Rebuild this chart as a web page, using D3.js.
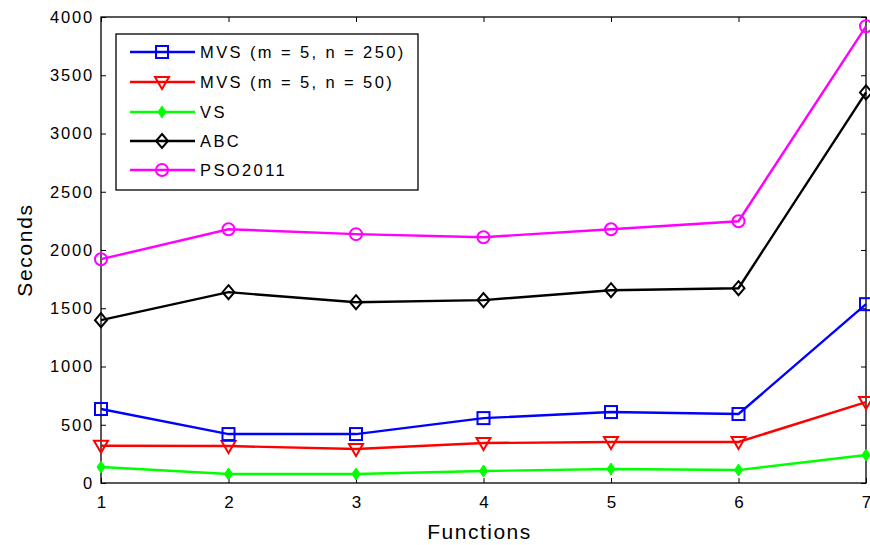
<!DOCTYPE html>
<html><head><meta charset="utf-8">
<script src="https://cdn.jsdelivr.net/npm/d3@7"></script>
<style>body{margin:0;background:#fff}svg{display:block}text{font-family:"Liberation Sans",Arial,sans-serif}</style>
</head><body><svg id="c" width="870" height="545"></svg>
<script>
const functions = [1,2,3,4,5,6,7];
const mvs250 = [635,420,420,557,609,592,1535];
const mvs50 = [320,317,292,343,352,352,695];
const vs = [137,77,77,103,120,111,240];
const abc = [1398,1638,1552,1570,1655,1672,3353];
const pso = [1921,2178,2136,2110,2178,2247,3920];
const yTicks = [0,500,1000,1500,2000,2500,3000,3500,4000];
const seriesNames = ["MVS (m = 5, n = 250)","MVS (m = 5, n = 50)","VS","ABC","PSO2011"];
const seriesColors = ["#0000ff","#ff0000","#00ff00","#000000","#ff00ff"];
const seriesMarkers = ["square","triangle","dot","diamond","circle"];
const seriesData = [mvs250,mvs50,vs,abc,pso];

const svg = d3.select("#c");
const L=101,R=866,T=17,B=483;
const x = d3.scaleLinear().domain([1,7]).range([L,R]);
const y = d3.scaleLinear().domain([0,4000]).range([B,T]);

const fs = "16.5px", ls="1.8px";
svg.append("g").attr("transform",`translate(${L},0)`).call(d3.axisLeft(y).tickValues(yTicks).tickFormat(d3.format("d")).tickSizeInner(-5).tickSizeOuter(0).tickPadding(7))
 .call(g=>{g.select(".domain").remove();g.selectAll("text").attr("font-size",fs).attr("letter-spacing",ls).attr("fill","#000").attr("font-family","Liberation Sans, Arial");});
svg.append("g").attr("transform",`translate(${R},0)`).call(d3.axisRight(y).tickValues(yTicks).tickSizeInner(-5).tickSizeOuter(0).tickFormat(""))
 .call(g=>g.select(".domain").remove());
svg.append("g").attr("transform",`translate(0,${B})`).call(d3.axisBottom(x).tickValues(functions).tickSizeInner(-5).tickSizeOuter(0).tickPadding(13).tickFormat(d3.format("d")))
 .call(g=>{g.select(".domain").remove();g.selectAll("text").attr("font-size","17px").attr("fill","#000").attr("font-family","Liberation Sans, Arial");});
svg.append("g").attr("transform",`translate(0,${T})`).call(d3.axisTop(x).tickValues(functions).tickSizeInner(-5).tickSizeOuter(0).tickFormat(""))
 .call(g=>g.select(".domain").remove());
svg.selectAll(".tick line").attr("stroke","#000");
svg.append("rect").attr("x",L).attr("y",T).attr("width",R-L).attr("height",B-T).attr("fill","none").attr("stroke","#000").attr("stroke-width",1.3);

svg.append("text").attr("x",(L+R)/2-4).attr("y",539).attr("text-anchor","middle").attr("font-size","21px").attr("letter-spacing","1.5px").text("Functions");
svg.append("text").attr("transform",`translate(32,${(T+B)/2}) rotate(-90)`).attr("text-anchor","middle").attr("font-size","21px").attr("letter-spacing","1.7px").text("Seconds");

function marker(g,type,color,cx,cy){
  if(type==="square") g.append("rect").attr("x",cx-6).attr("y",cy-6).attr("width",12).attr("height",12).attr("fill","none").attr("stroke",color).attr("stroke-width",2);
  else if(type==="triangle") g.append("path").attr("d",`M${cx-7},${cy-5}L${cx+7},${cy-5}L${cx},${cy+7}Z`).attr("fill","none").attr("stroke",color).attr("stroke-width",2);
  else if(type==="dot") g.append("path").attr("d",`M${cx},${cy-6}L${cx+4},${cy}L${cx},${cy+6}L${cx-4},${cy}Z`).attr("fill",color).attr("stroke",color).attr("stroke-width",1);
  else if(type==="diamond") g.append("path").attr("d",`M${cx},${cy-7}L${cx+6},${cy}L${cx},${cy+7}L${cx-6},${cy}Z`).attr("fill","none").attr("stroke",color).attr("stroke-width",2);
  else if(type==="circle") g.append("circle").attr("cx",cx).attr("cy",cy).attr("r",6).attr("fill","none").attr("stroke",color).attr("stroke-width",2);
}

const line = d3.line().x((d,i)=>x(functions[i])).y(d=>y(d));
const order=[2,1,0,3,4];
order.forEach(k=>{
  const g=svg.append("g");
  g.append("path").attr("d",line(seriesData[k])).attr("fill","none").attr("stroke",seriesColors[k]).attr("stroke-width",2.4);
  seriesData[k].forEach((v,i)=>marker(g,seriesMarkers[k],seriesColors[k],x(functions[i]),y(v)));
});

const lg=svg.append("g");
lg.append("rect").attr("x",116).attr("y",34).attr("width",302).attr("height",156).attr("fill","#fff").attr("stroke","#000").attr("stroke-width",1.3);
const ly=[52,82,112,141,170];
seriesNames.forEach((n,k)=>{
  lg.append("line").attr("x1",130).attr("x2",195).attr("y1",ly[k]).attr("y2",ly[k]).attr("stroke",seriesColors[k]).attr("stroke-width",2.4);
  marker(lg,seriesMarkers[k],seriesColors[k],162,ly[k]);
  lg.append("text").attr("x",200).attr("y",ly[k]+6).attr("font-size","16.5px").attr("letter-spacing","2.4px").text(n);
});
</script></body></html>
